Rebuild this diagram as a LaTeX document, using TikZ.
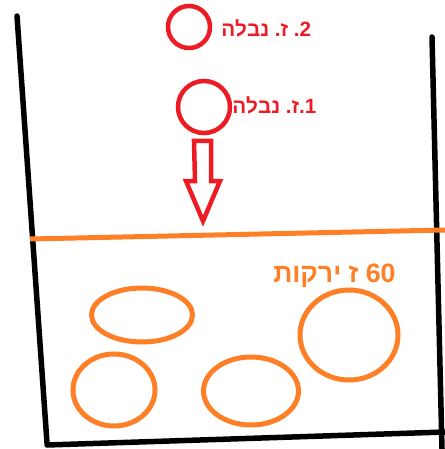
\documentclass[tikz,border=0pt]{standalone}
\usepackage{fontspec}
\setmainfont{Liberation Sans}
\TeXXeTstate=1
\usetikzlibrary{shapes.geometric}
\definecolor{paintred}{RGB}{237,28,36}
\definecolor{paintorange}{RGB}{255,127,39}
\newcommand{\hebword}[1]{\hbox{\beginR #1\endR}}
\tikzset{
  wall/.style={line width=5.5pt*0.75, black, line cap=round},
  surface/.style={line width=5pt*0.75, paintorange},
  bubble/.style={circle, draw=paintred, line width=4.5pt*0.75, inner sep=0pt},
  blob/.style={ellipse, draw=paintorange, line width=5pt*0.75, inner sep=0pt},
  redlabel/.style={text=paintred, font=\bfseries\fontsize{15.5}{18}\selectfont, inner sep=0pt, anchor=west},
  orangelabel/.style={text=paintorange, font=\bfseries\fontsize{20}{23}\selectfont, inner sep=0pt, anchor=west},
  blockarrow/.style={draw=paintred, line width=4.5pt*0.75, line join=miter}
}
\begin{document}
\begin{tikzpicture}[x=0.75pt,y=-0.75pt]
\useasboundingbox (0,0) rectangle (445,449);
% container walls
\coordinate (lt) at (17,16);
\coordinate (lb) at (47,443);
\coordinate (rt) at (432,37);
\coordinate (rb) at (442,449);
\coordinate (bl) at (47,445);
\coordinate (br) at (445,432);
\draw[wall] (lt) -- (lb);
\draw[wall] (rt) -- (rb);
\draw[wall] (bl) -- (br);
% liquid surface
\coordinate (sl) at (30,239);
\coordinate (sr) at (445,230);
\draw[surface] (sl) -- (sr);
% falling drops
\node[bubble, minimum size=42pt*0.75] (d2) at (189,27) {};
\node[bubble, minimum size=52pt*0.75] (d1) at (204,107) {};
\node[redlabel] (t2) at (221,28) {\hebword{נבלה}\ \hbox{.}\hbox{ז}\ \hbox{.}\hbox{2}};
\node[redlabel] (t1) at (232,105) {\hebword{נבלה}\ \hbox{.}\hbox{ז}\hbox{.}\hbox{1}};
% hollow arrow
\draw[blockarrow] (194,141) -- (211,141) -- (211,181) -- (220,181) -- (203,221) -- (186,181) -- (195,181) -- cycle;
% orange ellipses
\node[blob, minimum width=101pt*0.75, minimum height=54pt*0.75] (e1) at (142,315) {};
\node[blob, minimum width=82pt*0.75, minimum height=72pt*0.75] (e2) at (114,390) {};
\node[blob, minimum width=95pt*0.75, minimum height=68pt*0.75] (e3) at (251,391) {};
\node[blob, minimum width=98pt*0.75, minimum height=90pt*0.75] (e4) at (349,335) {};
\node[orangelabel] (t3) at (273,276) {\beginR\beginL 60\endL{} ז ירקות\endR};
\end{tikzpicture}
\end{document}
